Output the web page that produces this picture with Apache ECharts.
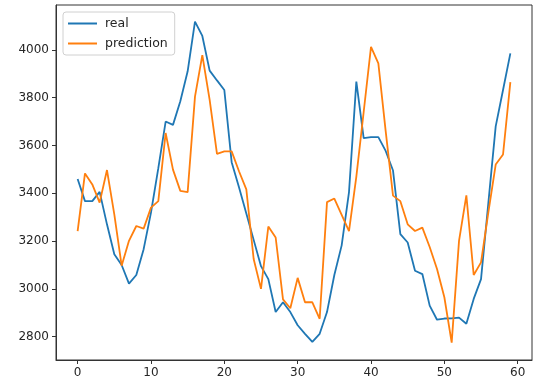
<!DOCTYPE html>
<html>
<head>
<meta charset="utf-8">
<style>
html,body{margin:0;padding:0;background:#fff;}
#chart{width:533px;height:386px;}
</style>
<script src="https://cdn.jsdelivr.net/npm/echarts@6/dist/echarts.min.js"></script>
</head>
<body>
<div id="chart"></div>
<script>
var xTicks = [0, 10, 20, 30, 40, 50, 60];
var yTicks = [2800, 3000, 3200, 3400, 3600, 3800, 4000];
var seriesNames = ['real', 'prediction'];
var real = [3460,3367,3367,3406,3270,3145,3100,3022,3058,3166,
            3319,3505,3700,3686,3785,3910,4118,4058,3913,3872,
            3832,3530,3425,3315,3205,3095,3041,2903,2944,2903,
            2848,2812,2778,2812,2903,3058,3182,3405,3867,3631,
            3635,3635,3577,3495,3229,3194,3076,3062,2930,2871,
            2876,2877,2880,2854,2958,3041,3360,3680,3832,3985];
var prediction = [3242,3483,3437,3361,3497,3312,3097,3201,3263,3252,
                  3340,3367,3652,3499,3410,3405,3804,3978,3791,3565,
                  3575,3575,3492,3416,3125,3000,3261,3215,2956,2919,
                  3046,2944,2944,2875,3363,3378,3310,3242,3470,3740,
                  4012,3943,3660,3390,3367,3270,3242,3256,3175,3083,
                  2965,2775,3201,3391,3058,3111,3320,3520,3562,3865];

function pairs(arr){ return arr.map(function(v,i){ return [i, v]; }); }

var chart = echarts.init(document.getElementById('chart'), null, {renderer:'canvas'});
var font = '"DejaVu Sans", sans-serif';
var option = {
  animation: false,
  backgroundColor: '#ffffff',
  grid: {left: 56, right: 1, top: 5, bottom: 26, show: true, borderColor: '#333', borderWidth: 1, backgroundColor: 'transparent'},
  legend: {
    data: seriesNames.map(function(n){ return {name: n, icon: 'rect'}; }),
    orient: 'vertical',
    left: 63, top: 12,
    borderColor: '#d0d0d0', borderWidth: 1, borderRadius: 3,
    padding: [5, 7, 5, 5],
    itemGap: 7,
    itemWidth: 29, itemHeight: 2,
    textStyle: {fontFamily: font, fontSize: 12.5, color: '#262626', padding: [0, 0, 0, 3]},
    backgroundColor: 'rgba(255,255,255,0.8)'
  },
  xAxis: {
    type: 'value', min: -2.95, max: 61.95,
    splitLine: {show: false},
    axisLine: {show: true, onZero: false, lineStyle: {color: '#333', width: 1}},
    axisTick: {show: true, length: 4, customValues: xTicks, lineStyle: {color: '#333'}},
    axisLabel: {customValues: xTicks, margin: 7, fontFamily: font, fontSize: 12, color: '#262626'}
  },
  yAxis: {
    type: 'value', min: 2702.5, max: 4187.5,
    splitLine: {show: false},
    axisLine: {show: true, onZero: false, lineStyle: {color: '#333', width: 1}},
    axisTick: {show: true, length: 4, customValues: yTicks, lineStyle: {color: '#333'}},
    axisLabel: {customValues: yTicks, margin: 7, fontFamily: font, fontSize: 12, color: '#262626',
                formatter: function(v){ return String(v); }}
  },
  series: [
    {name: seriesNames[0], type: 'line', data: pairs(real), symbol: 'none', showSymbol: false,
     itemStyle: {color: '#1f77b4'}, lineStyle: {color: '#1f77b4', width: 1.8}},
    {name: seriesNames[1], type: 'line', data: pairs(prediction), symbol: 'none', showSymbol: false,
     itemStyle: {color: '#ff7f0e'}, lineStyle: {color: '#ff7f0e', width: 1.8}}
  ]
};
chart.setOption(option);
</script>
</body>
</html>
